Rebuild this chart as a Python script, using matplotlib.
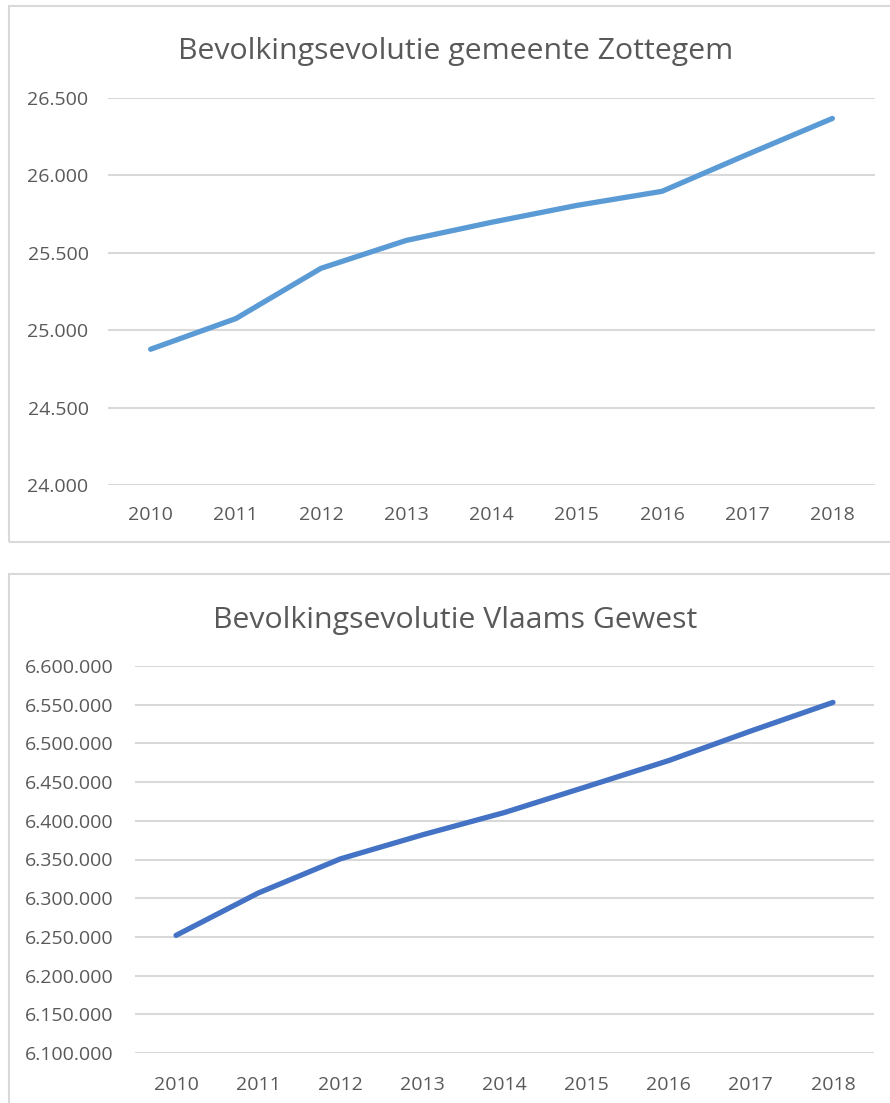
import matplotlib.pyplot as plt
from matplotlib.patches import Rectangle
from matplotlib.ticker import FuncFormatter

# data
jaren = ['2010', '2011', '2012', '2013', '2014', '2015', '2016', '2017', '2018']
zottegem = [24877, 25075, 25400, 25580, 25697, 25806, 25897, 26135, 26368]
vlaanderen = [6251983, 6306638, 6350765, 6381859, 6410705, 6444127, 6477804, 6516011, 6552967]

W, H = 890, 1103
tekst_kleur = '#595959'
grid_kleur = '#D9D9D9'

plt.rcParams['font.family'] = ['Open Sans', 'DejaVu Sans']

fig = plt.figure(figsize=(W / 100, H / 100), dpi=100)


def px_axes(x0, y0, x1, y1):
    # pixel box (top-left origin) -> figure axes
    return fig.add_axes([x0 / W, 1 - y1 / H, (x1 - x0) / W, (y1 - y0) / H])


def punt_fmt(v, pos):
    return f'{int(round(v)):,}'.replace(',', '.')


# chart kaders
fig.patches.append(Rectangle((9 / W, 1 - 542 / H), 900 / W, 536 / H, transform=fig.transFigure,
                             fill=False, edgecolor=grid_kleur, linewidth=1.5))
fig.patches.append(Rectangle((9 / W, 1 - 1120 / H), 900 / W, 546 / H, transform=fig.transFigure,
                             fill=False, edgecolor=grid_kleur, linewidth=1.5))


def teken(ax, waarden, kleur, ymin, ymax, stap, ypad, xpad):
    x = list(range(len(jaren)))
    ax.plot(x, waarden, color=kleur, linewidth=3.8, solid_capstyle='round', solid_joinstyle='round')
    ax.set_xlim(-0.5, len(jaren) - 0.5)
    ax.set_ylim(ymin, ymax)
    ax.set_yticks(range(ymin, ymax + 1, stap))
    ax.yaxis.set_major_formatter(FuncFormatter(punt_fmt))
    ax.set_xticks(x)
    ax.set_xticklabels(jaren)
    ax.grid(axis='y', color=grid_kleur, linewidth=1.5)
    ax.set_axisbelow(True)
    for s in ax.spines.values():
        s.set_visible(False)
    ax.tick_params(length=0, labelsize=14, labelcolor=tekst_kleur)
    ax.tick_params(axis='y', pad=ypad)
    ax.tick_params(axis='x', pad=xpad)


ax1 = px_axes(108, 98, 875, 485)
teken(ax1, zottegem, '#5B9BD5', 24000, 26500, 500, 14, 15)
fig.text(456 / W, 1 - 59 / H, 'Bevolkingsevolutie gemeente Zottegem', ha='center', va='baseline',
         fontsize=21.8, color=tekst_kleur)

ax2 = px_axes(135, 666, 874, 1053)
teken(ax2, vlaanderen, '#4472C4', 6100000, 6600000, 50000, 15.5, 16.5)
fig.text(455 / W, 1 - 628 / H, 'Bevolkingsevolutie Vlaams Gewest', ha='center', va='baseline',
         fontsize=21.8, color=tekst_kleur)

fig.savefig('out.png', dpi=100)
